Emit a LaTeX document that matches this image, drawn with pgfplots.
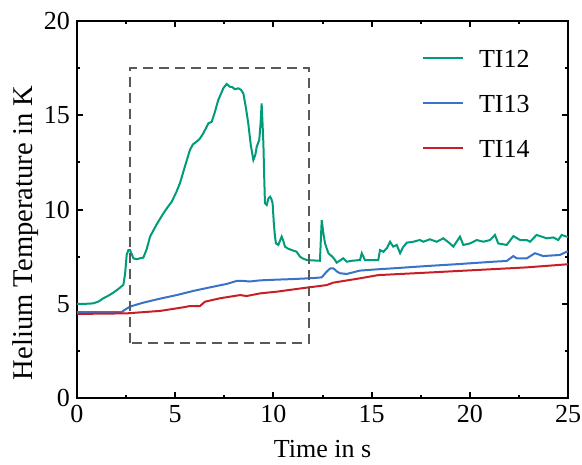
\documentclass[border=0pt]{standalone}
\usepackage{fontspec}
\setmainfont{Liberation Serif}
\usepackage{pgfplots}
\pgfplotsset{compat=1.18}

\definecolor{cgreen}{RGB}{0,155,120}
\definecolor{cblue}{RGB}{55,115,200}
\definecolor{cred}{RGB}{200,30,40}

\begin{document}
\begin{tikzpicture}
\begin{axis}[
    name=ax,
    scale only axis,
    width=245.5bp, height=188.5bp,
    xmin=0, xmax=25, ymin=0, ymax=20,
    xtick={0,5,...,25}, ytick={0,5,...,20},
    minor x tick num=1, minor y tick num=1,
    tick align=inside,
    major tick length=3.25bp, minor tick length=1.75bp,
    axis line style={line width=1bp},
    every tick/.style={line width=1bp, black},
    /pgf/number format/assume math mode=true,
    ticklabel style={font=\fontsize{13bp}{15bp}\selectfont},
    xlabel={Time in s},
    ylabel={Helium Temperature in K},
    xlabel style={font=\fontsize{13bp}{15bp}\selectfont,
        at={(axis description cs:0.5,-0.159)}, anchor=base},
    ylabel style={font=\fontsize{14.3bp}{16bp}\selectfont,
        at={(axis description cs:-0.0916,0.4377)}, anchor=base, rotate=0},
    legend cell align=left,
    legend style={draw=none, fill=none, inner sep=0pt,
        at={(axis description cs:0.9226,0.9257)}, anchor=north east,
        font=\fontsize{13bp}{15bp}\selectfont,
        nodes={inner sep=0pt, text height=9bp, text depth=0pt},
        row sep=13.5bp,
        /tikz/every odd column/.style={column sep=7.5bp}},
    legend image code/.code={\draw[#1] (0bp,0bp) -- (20bp,0bp);},
    every axis plot/.append style={line width=1bp},
]
\addplot[cgreen] coordinates {
(0,5.0) (0.5,5.0) (0.83,5.02) (1.1,5.12) (1.34,5.29) (1.6,5.43) (1.85,5.59)
(2.1,5.78) (2.36,6.0) (2.45,6.6) (2.53,7.6) (2.62,7.85) (2.7,7.85) (2.8,7.6)
(2.87,7.41) (3.04,7.36) (3.2,7.41) (3.38,7.45) (3.55,7.9) (3.72,8.56) (4.05,9.2)
(4.4,9.8) (4.6,10.1) (4.82,10.41) (5.05,10.9) (5.24,11.39) (5.5,12.3) (5.75,13.16)
(5.9,13.45) (6.09,13.6) (6.25,13.75) (6.43,14.04) (6.69,14.57) (6.86,14.66)
(7.0,15.1) (7.19,15.8) (7.45,16.43) (7.62,16.66) (7.79,16.51) (7.9,16.5)
(8.04,16.38) (8.21,16.43) (8.35,16.35) (8.47,16.16) (8.6,15.4) (8.72,14.57)
(8.85,13.4) (8.98,12.63) (9.08,12.9) (9.15,13.33) (9.28,13.69) (9.35,14.6)
(9.4,15.63) (9.45,14.5) (9.49,13.51) (9.53,11.8) (9.57,10.33) (9.66,10.24)
(9.75,10.6) (9.83,10.68) (9.9,10.55) (9.96,10.33) (10.02,9.3) (10.08,8.56)
(10.13,8.2) (10.25,8.12) (10.42,8.56) (10.5,8.35) (10.59,8.03) (10.75,7.92)
(10.93,7.85) (11.18,7.76) (11.35,7.5) (11.5,7.4) (11.7,7.32) (12.0,7.3)
(12.37,7.28) (12.42,8.5) (12.46,9.44) (12.55,8.7) (12.63,8.2) (12.8,7.68)
(13.0,7.5) (13.14,7.32) (13.22,7.18) (13.4,7.3) (13.56,7.41) (13.73,7.23)
(14.0,7.28) (14.41,7.32) (14.5,7.68) (14.66,7.32) (15.0,7.32) (15.34,7.32)
(15.43,7.85) (15.6,7.76) (15.77,7.94) (15.94,8.29) (16.1,8.03) (16.28,8.12)
(16.45,7.68) (16.6,8.0) (16.79,8.24) (17.12,8.29) (17.46,8.38) (17.63,8.29)
(17.97,8.42) (18.31,8.29) (18.65,8.47) (18.99,8.2) (19.16,8.03) (19.5,8.56)
(19.67,8.12) (20.01,8.2) (20.35,8.38) (20.69,8.29) (21.03,8.38) (21.28,8.65)
(21.45,8.2) (21.88,8.12) (22.22,8.59) (22.56,8.38) (22.9,8.38) (23.07,8.29)
(23.4,8.65) (23.66,8.56) (23.92,8.47) (24.25,8.52) (24.5,8.38) (24.68,8.65)
(24.93,8.56) (25,8.55)
};
\addlegendentry{TI12}
\addplot[cblue] coordinates {
(0,4.56) (1,4.56) (2.27,4.56) (2.5,4.72) (2.7,4.85) (3.38,5.06) (4.23,5.27)
(5.07,5.46) (5.92,5.68) (6.77,5.87) (7.62,6.05) (8.13,6.21) (8.47,6.21)
(8.8,6.18) (9.32,6.24) (10.2,6.28) (11.01,6.31) (12.0,6.36) (12.46,6.4)
(12.71,6.7) (12.9,6.88) (13.05,6.88) (13.25,6.7) (13.39,6.62) (13.73,6.58)
(14.41,6.76) (15.2,6.82) (16.1,6.88) (17.8,7.0) (19.5,7.11) (21.2,7.23)
(21.88,7.27) (22.22,7.53) (22.39,7.41) (22.9,7.41) (23.32,7.68) (23.74,7.53)
(24.59,7.59) (24.93,7.76) (25,7.76)
};
\addlegendentry{TI13}
\addplot[cred] coordinates {
(0,4.46) (2.53,4.49) (4.23,4.62) (5.41,4.81) (5.75,4.88) (6.26,4.88)
(6.52,5.11) (7.28,5.29) (8.3,5.46) (8.64,5.41) (9.32,5.55) (10.17,5.64)
(11.44,5.82) (12.71,5.99) (13.05,6.12) (14.41,6.35) (15.34,6.52) (17.8,6.65)
(20.35,6.79) (22.9,6.93) (24.93,7.09) (25,7.1)
};
\addlegendentry{TI14}
\draw[gray!70!black, line width=1bp, dash pattern=on 5bp off 3bp]
    (axis cs:2.7,2.9) rectangle (axis cs:11.8,17.5);
\end{axis}
\pgfresetboundingbox
\path ([shift={(-38.5bp,-33.5bp)}]ax.south west) rectangle ([shift={(7bp,10.5bp)}]ax.north east);
\end{tikzpicture}
\end{document}
